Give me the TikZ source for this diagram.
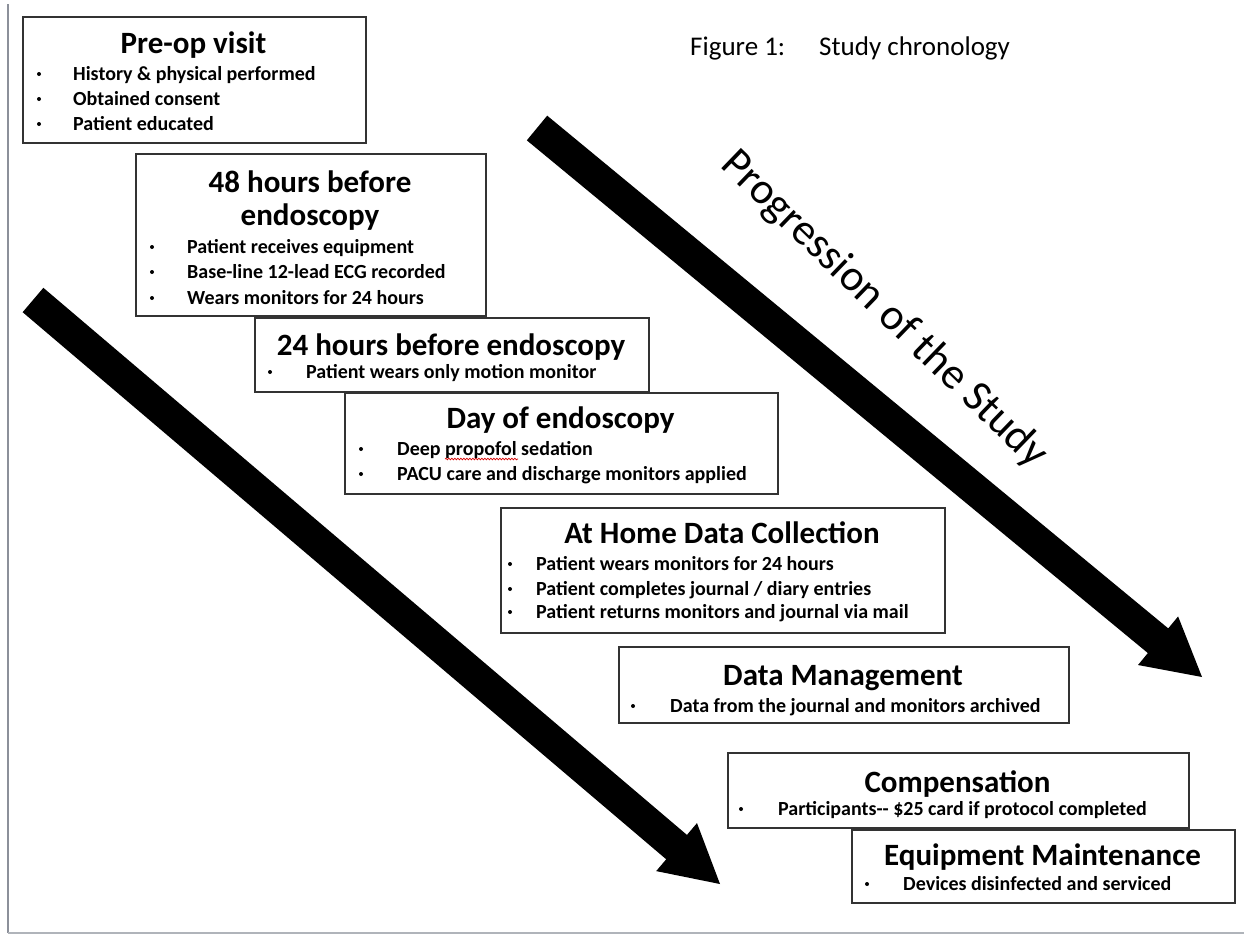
\documentclass[tikz,border=0pt]{standalone}
\usepackage{fontspec}
\setmainfont{Carlito}
\usetikzlibrary{calc,decorations.pathmorphing}
\begin{document}
\begin{tikzpicture}[x=1pt,y=-1pt,
  box/.style={draw=black!80, line width=1.6pt, fill=white, rectangle, inner sep=0pt, anchor=north west},
  ttl/.style={font=\fontsize{31}{33}\selectfont\bfseries, anchor=base, inner sep=0pt},
  itm/.style={font=\fontsize{20}{22}\selectfont\bfseries, anchor=base west, inner sep=0pt},
  dot/.style={circle, fill=black, inner sep=0pt, minimum size=4pt},
  fig/.style={font=\fontsize{27}{29}\selectfont, anchor=base west, inner sep=0pt},
  prog/.style={font=\fontsize{44}{46}\selectfont, anchor=center, inner sep=0pt, rotate=-44},
  frame/.style={line width=2.5pt}]
\useasboundingbox (0,0) rectangle (1244,938);
\fill[white] (0,0) rectangle (1244,938);
% frame lines
\draw[frame, color={rgb,255:red,140;green,144;blue,154}] (8,4) -- (8,933);
\draw[line width=2pt, color={rgb,255:red,176;green,180;blue,186}] (8,933) -- (1244,933);

% big arrows
\coordinate (ra1) at (537,128);
\coordinate (ra2) at (1202,677);
\coordinate (rb) at ($(ra2)!57pt!(ra1)$);
\fill[black] ($(ra1)!16pt!90:(ra2)$) -- ($(rb)!16pt!-90:(ra1)$) -- ($(rb)!31.5pt!-90:(ra1)$) -- (ra2)
  -- ($(rb)!31.5pt!90:(ra1)$) -- ($(rb)!16pt!90:(ra1)$) -- ($(ra1)!16pt!-90:(ra2)$) -- cycle;
\coordinate (la1) at (33,300);
\coordinate (la2) at (720,884);
\coordinate (lb) at ($(la2)!57pt!(la1)$);
\fill[black] ($(la1)!16pt!90:(la2)$) -- ($(lb)!16pt!-90:(la1)$) -- ($(lb)!31.5pt!-90:(la1)$) -- (la2)
  -- ($(lb)!31.5pt!90:(la1)$) -- ($(lb)!16pt!90:(la1)$) -- ($(la1)!16pt!-90:(la2)$) -- cycle;

\node[prog] (prog) at (884,310) {Progression of the Study};
\node[fig] (fig) at (690,55) {Figure 1:\hspace{34pt}Study chronology};

% box 1
\node[box, minimum width=343pt, minimum height=126pt] (b1) at (22,16) {};
\node[ttl] (t1) at (193.5,53) {Pre-op visit};
\node[dot] (d11) at (39,74) {}; \node[itm] (i11) at (73,80) {History \& physical performed};
\node[dot] (d12) at (39,99) {}; \node[itm] (i12) at (73,105) {Obtained consent};
\node[dot] (d13) at (39,124) {}; \node[itm] (i13) at (73,130) {Patient educated};

% box 2
\node[box, minimum width=350pt, minimum height=162pt] (b2) at (135,153) {};
\node[ttl] (t2a) at (310,192) {48 hours before};
\node[ttl] (t2b) at (310,225) {endoscopy};
\node[dot] (d21) at (152,247) {}; \node[itm] (i21) at (187,253) {Patient receives equipment};
\node[dot] (d22) at (152,272) {}; \node[itm] (i22) at (187,278) {Base-line 12-lead ECG recorded};
\node[dot] (d23) at (152,298) {}; \node[itm] (i23) at (187,304) {Wears monitors for 24 hours};

% box 3
\node[box, minimum width=394pt, minimum height=74pt] (b3) at (254,317) {};
\node[ttl] (t3) at (451,355) {24 hours before endoscopy};
\node[dot] (d31) at (270,372) {}; \node[itm] (i31) at (306,378) {Patient wears only motion monitor};

% box 4
\node[box, minimum width=433pt, minimum height=101pt] (b4) at (344,392) {};
\node[ttl] (t4) at (560.5,428) {Day of endoscopy};
\node[dot] (d41) at (361,449) {}; \node[itm] (i41) at (397,455) {Deep propofol sedation};
\node[dot] (d42) at (361,474) {}; \node[itm] (i42) at (397,480) {PACU care and discharge monitors applied};
\draw[red!85!black, line width=0.7pt, decorate, decoration={snake, amplitude=0.8pt, segment length=3pt}]
  ($(i41.base west)+(48,4)$) -- ($(i41.base west)+(121,4)$);

% box 5
\node[box, minimum width=444pt, minimum height=125pt] (b5) at (500,507) {};
\node[ttl] (t5) at (722,543) {At Home Data Collection};
\node[dot] (d51) at (510,564) {}; \node[itm] (i51) at (536,570) {Patient wears monitors for 24 hours};
\node[dot] (d52) at (510,589) {}; \node[itm] (i52) at (536,595) {Patient completes journal / diary entries};
\node[dot] (d53) at (510,612) {}; \node[itm] (i53) at (536,618) {Patient returns monitors and journal via mail};

% box 6
\node[box, minimum width=450pt, minimum height=76pt] (b6) at (618,646) {};
\node[ttl] (t6) at (843,685) {Data Management};
\node[dot] (d61) at (633,706) {}; \node[itm] (i61) at (670,712) {Data from the journal and monitors archived};

% box 7
\node[box, minimum width=461pt, minimum height=75pt] (b7) at (727,752) {};
\node[ttl] (t7) at (957.5,792) {Compensation};
\node[dot] (d71) at (741,809) {}; \node[itm] (i71) at (778,815) {Participants-{}- \$25 card if protocol completed};

% box 8
\node[box, minimum width=383pt, minimum height=73pt] (b8) at (851,829) {};
\node[ttl] (t8) at (1042.5,865) {Equipment Maintenance};
\node[dot] (d81) at (867,884) {}; \node[itm] (i81) at (903,890) {Devices disinfected and serviced};
\end{tikzpicture}
\end{document}
